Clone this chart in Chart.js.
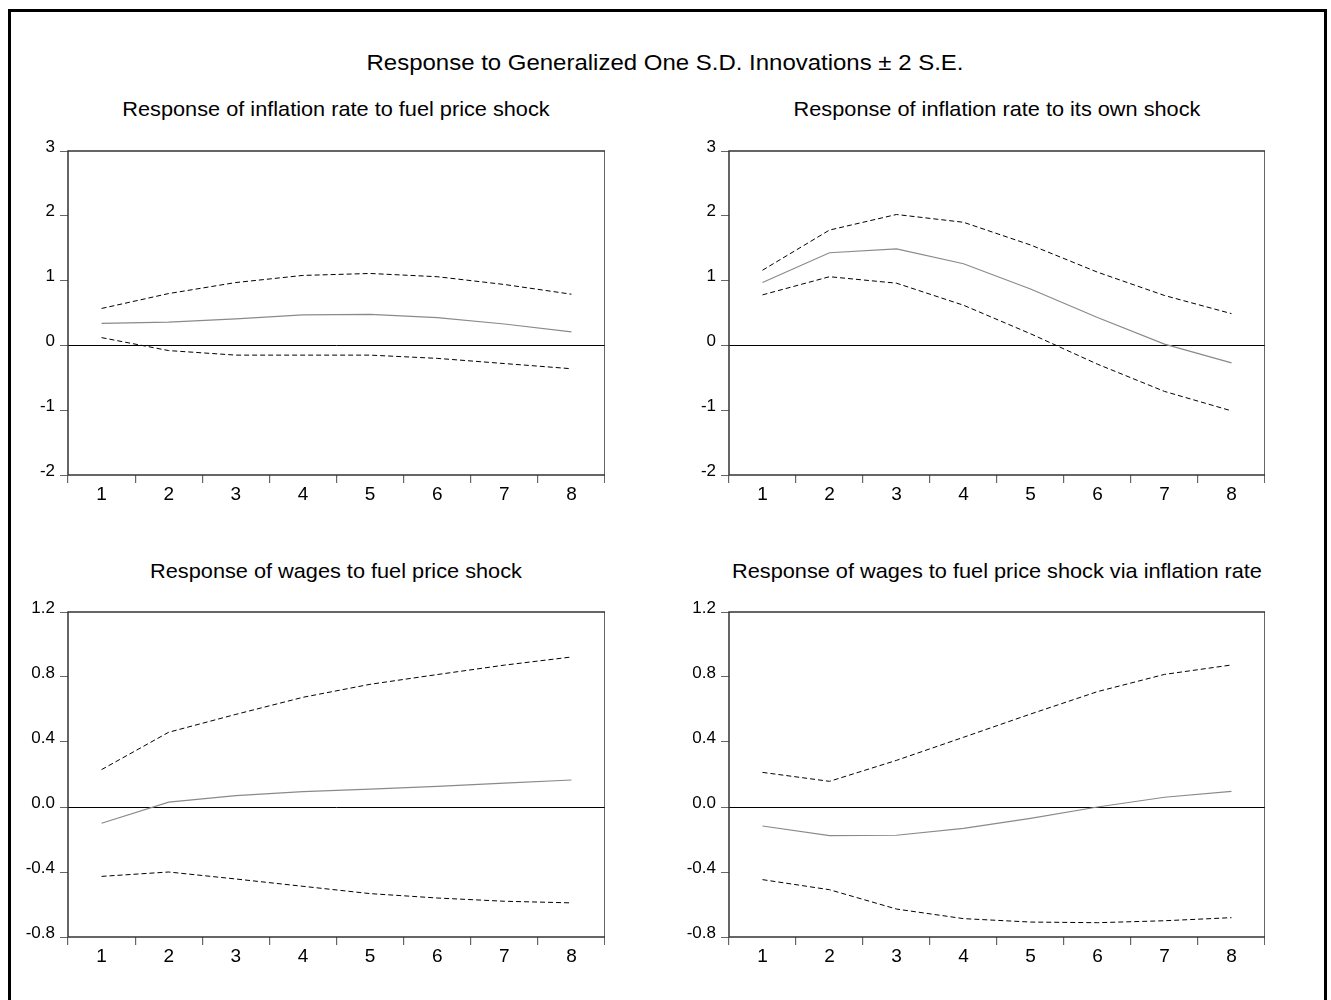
<!DOCTYPE html>
<html>
<head>
<meta charset="utf-8">
<script src="https://cdn.jsdelivr.net/npm/chart.js@4/dist/chart.umd.min.js"></script>
<style>
  html, body { margin: 0; padding: 0; background: #fff; overflow: hidden; }
  body { width: 1331px; height: 1000px; position: relative; font-family: "Liberation Sans", Arial, sans-serif; color: #000; }
  #frame { position: absolute; left: 8px; top: 9px; width: 1313px; height: 1010px; border: 3px solid #000; }
  .t { position: absolute; white-space: nowrap; line-height: 1; }
  #mainTitle { left: 665px; top: 52px; font-size: 22px; transform: translateX(-50%) scaleX(1.09); }
  .pt { font-size: 21px; transform: translateX(-50%) scaleX(1.034); }
  canvas { position: absolute; }
</style>
</head>
<body>
<div id="frame"></div>
<div id="mainTitle" class="t">Response to Generalized One S.D. Innovations ± 2 S.E.</div>
<div class="t pt" style="left:336px; top:98px;">Response of inflation rate to fuel price shock</div>
<div class="t pt" style="left:997px; top:98px;">Response of inflation rate to its own shock</div>
<div class="t pt" style="left:336px; top:560px;">Response of wages to fuel price shock</div>
<div class="t pt" style="left:997px; top:560px;">Response of wages to fuel price shock via inflation rate</div>
<canvas id="c1" width="595" height="375" style="left:10px; top:135px;"></canvas>
<canvas id="c2" width="594" height="375" style="left:671px; top:135px;"></canvas>
<canvas id="c3" width="595" height="376" style="left:10px; top:596px;"></canvas>
<canvas id="c4" width="594" height="376" style="left:671px; top:596px;"></canvas>
<script>
// ---- data ----
const periods = ['1', '2', '3', '4', '5', '6', '7', '8'];

// Response of inflation rate to fuel price shock
const inflFuelUpper = [0.57, 0.80, 0.97, 1.08, 1.11, 1.06, 0.94, 0.79];
const inflFuelResp  = [0.34, 0.36, 0.41, 0.47, 0.48, 0.43, 0.33, 0.21];
const inflFuelLower = [0.12, -0.08, -0.15, -0.15, -0.15, -0.20, -0.28, -0.36];

// Response of inflation rate to its own shock
const inflOwnUpper = [1.16, 1.78, 2.02, 1.90, 1.55, 1.13, 0.77, 0.49];
const inflOwnResp  = [0.97, 1.43, 1.49, 1.26, 0.87, 0.43, 0.02, -0.27];
const inflOwnLower = [0.78, 1.06, 0.96, 0.62, 0.18, -0.29, -0.71, -1.01];

// Response of wages to fuel price shock
const wageFuelUpper = [0.23, 0.46, 0.57, 0.675, 0.755, 0.815, 0.873, 0.923];
const wageFuelResp  = [-0.10, 0.03, 0.07, 0.095, 0.11, 0.127, 0.147, 0.166];
const wageFuelLower = [-0.427, -0.40, -0.443, -0.488, -0.533, -0.56, -0.58, -0.59];

// Response of wages to fuel price shock via inflation rate
const wageViaUpper = [0.213, 0.158, 0.287, 0.429, 0.572, 0.71, 0.816, 0.874];
const wageViaResp  = [-0.117, -0.176, -0.174, -0.131, -0.07, 0.0, 0.06, 0.096];
const wageViaLower = [-0.447, -0.509, -0.628, -0.687, -0.708, -0.712, -0.70, -0.681];

// y-axis ranges
const inflAxis = { min: -2, max: 3, step: 1, decimals: 0 };
const wageAxis = { min: -0.8, max: 1.2, step: 0.4, decimals: 1 };

// ---- rendering ----
const FAMILY = '"Liberation Sans", Arial, sans-serif';

const boxPlugin = {
  id: 'box',
  afterDraw(chart) {
    const a = chart.chartArea, ctx = chart.ctx;
    ctx.save();
    ctx.strokeStyle = '#333';
    ctx.lineWidth = 1.5;
    ctx.strokeRect(a.left, a.top, a.right - a.left, a.bottom - a.top);
    ctx.restore();
  }
};

function makeChart(id, upper, resp, lower, ax) {
  const dashed = (data) => ({
    data, borderColor: '#000', borderWidth: 1, borderDash: [5, 3],
    pointRadius: 0, fill: false, tension: 0
  });
  new Chart(document.getElementById(id), {
    type: 'line',
    data: {
      labels: periods,
      datasets: [
        dashed(upper),
        { data: resp, borderColor: '#8a8a8a', borderWidth: 1.2, pointRadius: 0, fill: false, tension: 0 },
        dashed(lower)
      ]
    },
    options: {
      responsive: false,
      animation: false,
      devicePixelRatio: 1,
      layout: { padding: { top: 16, right: 0, bottom: 0, left: 0 } },
      plugins: { legend: { display: false }, tooltip: { enabled: false }, title: { display: false } },
      scales: {
        x: {
          type: 'category',
          offset: true,
          grid: { offset: true, drawOnChartArea: false, drawTicks: true, tickLength: 8, color: '#666', lineWidth: 1.2 },
          border: { display: false },
          ticks: { color: '#000', font: { family: FAMILY, size: 19 }, padding: 0, maxRotation: 0, autoSkip: false },
          afterFit(s) { s.height = 35; }
        },
        y: {
          min: ax.min, max: ax.max,
          grid: {
            drawOnChartArea: true,
            drawTicks: true,
            tickLength: 8,
            color: (c) => (c.tick && Math.abs(c.tick.value) < 1e-9) ? '#000' : 'rgba(0,0,0,0)',
            tickColor: '#666',
            lineWidth: 1
          },
          border: { display: false },
          ticks: {
            stepSize: ax.step, color: '#000', font: { family: FAMILY, size: 17 }, padding: 5,
            labelOffset: -4,
            callback: (v) => Number(v).toFixed(ax.decimals)
          },
          afterFit(s) { s.width = 58; }
        }
      }
    },
    plugins: [boxPlugin]
  });
}

makeChart('c1', inflFuelUpper, inflFuelResp, inflFuelLower, inflAxis);
makeChart('c2', inflOwnUpper, inflOwnResp, inflOwnLower, inflAxis);
makeChart('c3', wageFuelUpper, wageFuelResp, wageFuelLower, wageAxis);
makeChart('c4', wageViaUpper, wageViaResp, wageViaLower, wageAxis);
</script>
</body>
</html>
